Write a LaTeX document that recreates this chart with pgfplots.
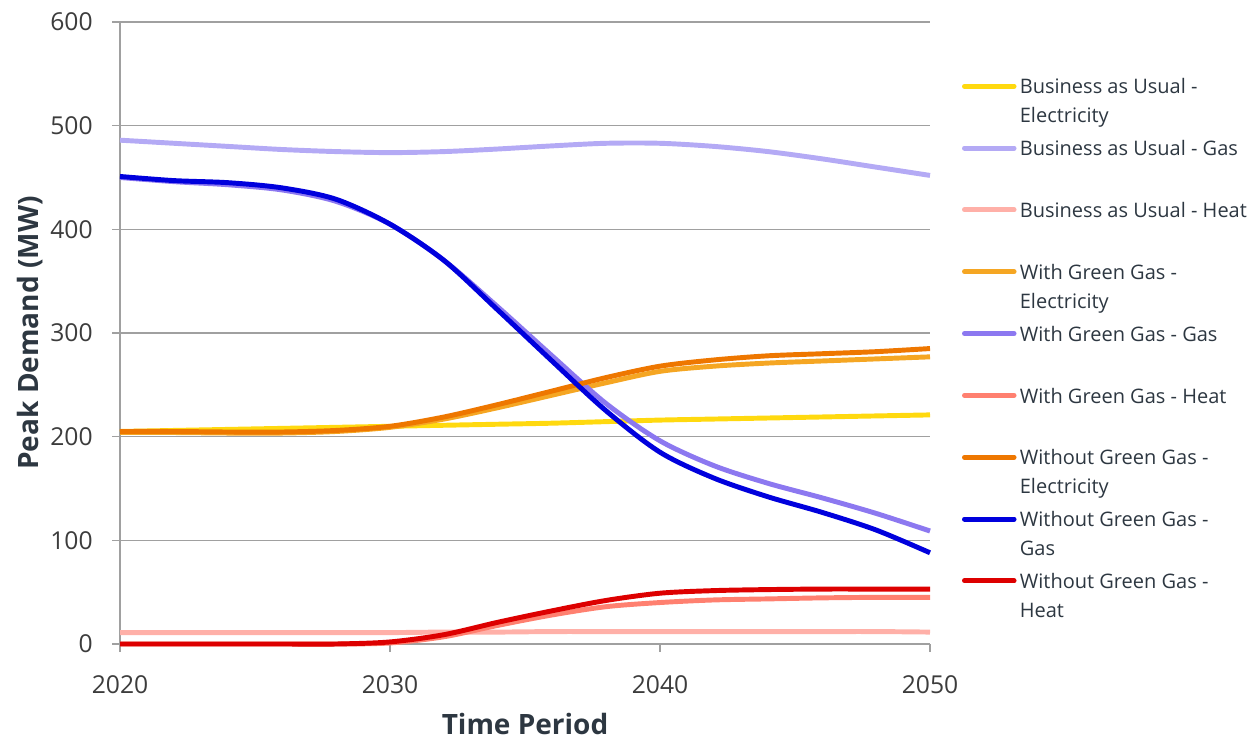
\documentclass[border=0pt]{standalone}
\usepackage{fontspec}
\setmainfont{Open Sans}
\usepackage{pgfplots}
\usepackage{pgfplotstable}
\pgfplotsset{compat=1.18}
\definecolor{baue}{RGB}{255,217,15}
\definecolor{baug}{RGB}{180,170,245}
\definecolor{bauh}{RGB}{255,176,168}
\definecolor{wgge}{RGB}{245,166,35}
\definecolor{wggg}{RGB}{140,120,240}
\definecolor{wggh}{RGB}{255,128,112}
\definecolor{woge}{RGB}{238,119,0}
\definecolor{wogg}{RGB}{0,0,221}
\definecolor{wogh}{RGB}{221,0,0}
\definecolor{gridc}{RGB}{160,160,160}
\definecolor{txt}{RGB}{45,55,65}
\definecolor{tck}{RGB}{60,60,60}

\pgfplotstableread{
yr   baue  baug  bauh  wgge  wggg  wggh  woge  wogg  wogh
2020 205   486   11    204   450   0     205   451   0
2022 206   483   11    204   446   0     205   447   0
2024 207   480   11    203.5 443   0     204.5 445   0
2026 208   477   11    203.5 438   0     204.5 440   0
2028 209   475   11    205   427   0     206   429   0
2030 210   474   11    209   405   1     210   405   2
2032 211   475   11.5  217   370   7     219   370   9
2034 212   477.5 11.5  228   325   18    231   322   21
2036 213   480.5 12    240   278   28    244   273   32
2038 214.5 483   12    252   232   36    257   225   42
2040 216   483   12    263   196   40    268   185   49
2042 217   480   12    268   172   42.5  274   160   51.5
2044 218   475   12    271   155   43.5  278   142   52.5
2046 219   468   12    273   141   44.5  280   127   53
2048 220   460   12    275   126   45    282   110   53
2050 221   452   11.5  277   109   45    285   88    53
}\data

\begin{document}
\begin{tikzpicture}
\useasboundingbox (0,0) rectangle (944.25pt,555pt);
\begin{axis}[
  at={(90pt,72pt)}, anchor=south west,
  scale only axis, width=607.5pt, height=466.5pt,
  xmin=2020, xmax=2050, ymin=0, ymax=600,
  xtick={2020,2030,2040,2050}, ytick={0,100,...,600},
  axis x line*=bottom, axis y line*=left,
  axis line style={gridc, line width=1.1pt, -},
  ymajorgrids, grid style={gridc, line width=1.1pt},
  tick style={gridc, line width=1.1pt},
  tick align=outside, major tick length=6pt,
  /pgf/number format/assume math mode=true,
  /pgf/number format/1000 sep={},
  ticklabel style={font=\fontsize{18.5}{22}\selectfont, text=tck},
  yticklabel style={xshift=-11pt},
  xticklabel style={yshift=-14pt},
  xlabel={Time Period}, ylabel={Peak Demand (MW)},
  every axis x label/.style={at={(axis description cs:0.5,0)}, yshift=-60pt, anchor=center,
     font=\fontsize{21}{25}\selectfont\bfseries, text=txt},
  every axis y label/.style={at={(axis description cs:0,0.5)}, xshift=-67.5pt, rotate=90, anchor=center,
     font=\fontsize{21}{25}\selectfont\bfseries, text=txt},
  clip=false,
  legend cell align=left,
  legend style={at={(axis description cs:1.0395,0.917)}, anchor=north west,
    draw=none, fill=none, font=\fontsize{15}{21.75}\selectfont, text=txt,
    row sep=7.9pt, column sep=2.5pt, inner sep=0pt, outer sep=0pt,
    nodes={inner sep=0pt, align=left}},
  legend image code/.code={\draw[#1, line width=3.7pt, line cap=round] (1.8pt,9.8pt) -- (39pt,9.8pt);},
  every axis plot/.append style={line width=3.7pt, smooth, no markers},
]
\addplot[baue] table[x=yr,y=baue]{\data};
\addlegendentry{\strut Business as Usual -\\\strut Electricity}
\addplot[baug] table[x=yr,y=baug]{\data};
\addlegendentry{\strut Business as Usual - Gas\\\strut}
\addplot[bauh] table[x=yr,y=bauh]{\data};
\addlegendentry{\strut Business as Usual - Heat\\\strut}
\addplot[wgge] table[x=yr,y=wgge]{\data};
\addlegendentry{\strut With Green Gas -\\\strut Electricity}
\addplot[wggg] table[x=yr,y=wggg]{\data};
\addlegendentry{\strut With Green Gas - Gas\\\strut}
\addplot[wggh] table[x=yr,y=wggh]{\data};
\addlegendentry{\strut With Green Gas - Heat\\\strut}
\addplot[woge] table[x=yr,y=woge]{\data};
\addlegendentry{\strut Without Green Gas -\\\strut Electricity}
\addplot[wogg] table[x=yr,y=wogg]{\data};
\addlegendentry{\strut Without Green Gas -\\\strut Gas}
\addplot[wogh] table[x=yr,y=wogh]{\data};
\addlegendentry{\strut Without Green Gas -\\\strut Heat}
\end{axis}
\end{tikzpicture}
\end{document}
